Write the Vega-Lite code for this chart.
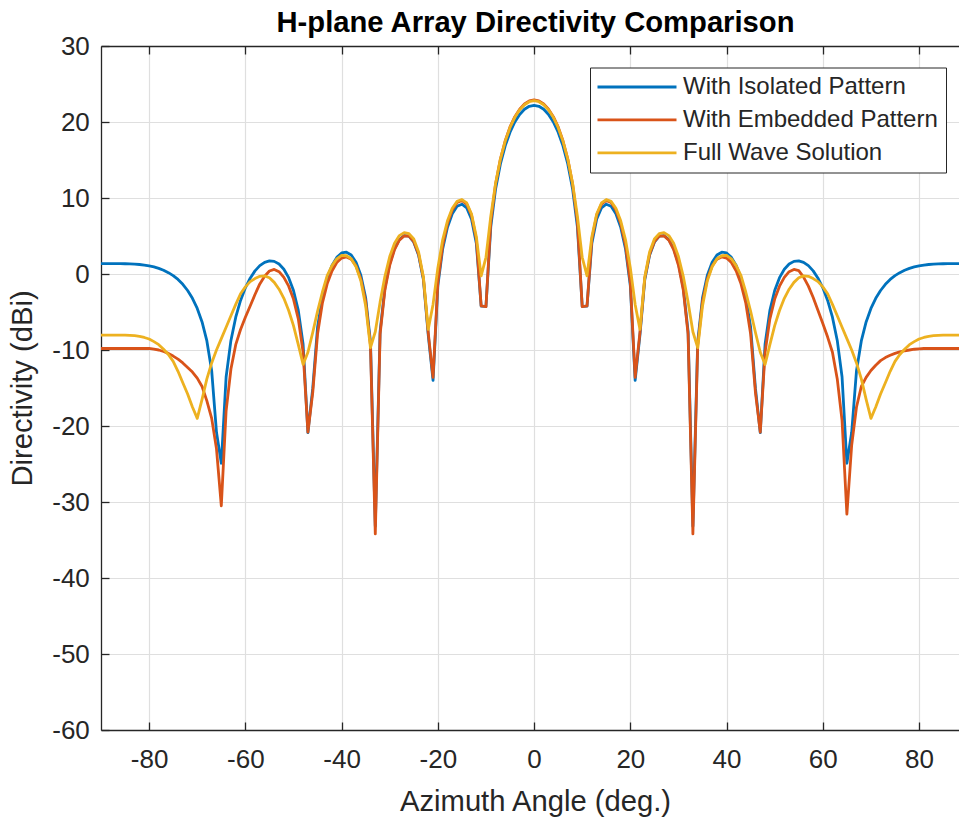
{
  "$schema": "https://vega.github.io/schema/vega-lite/v6.json",
  "width": 858,
  "height": 684,
  "autosize": {"type": "none"},
  "padding": {"left": 101, "top": 46, "right": 0, "bottom": 87},
  "background": "white",
  "config": {
    "font": "Liberation Sans",
    "view": {"stroke": null}
  },
  "datasets": {
    "pts": [
{"angle":-90,"dir":1.37,"series":"With Isolated Pattern"},{"angle":-89,"dir":1.37,"series":"With Isolated Pattern"},{"angle":-88,"dir":1.37,"series":"With Isolated Pattern"},{"angle":-87,"dir":1.37,"series":"With Isolated Pattern"},{"angle":-86,"dir":1.36,"series":"With Isolated Pattern"},{"angle":-85,"dir":1.35,"series":"With Isolated Pattern"},{"angle":-84,"dir":1.33,"series":"With Isolated Pattern"},{"angle":-83,"dir":1.3,"series":"With Isolated Pattern"},{"angle":-82,"dir":1.25,"series":"With Isolated Pattern"},{"angle":-81,"dir":1.18,"series":"With Isolated Pattern"},{"angle":-80,"dir":1.07,"series":"With Isolated Pattern"},{"angle":-79,"dir":0.93,"series":"With Isolated Pattern"},{"angle":-78,"dir":0.74,"series":"With Isolated Pattern"},{"angle":-77,"dir":0.5,"series":"With Isolated Pattern"},{"angle":-76,"dir":0.18,"series":"With Isolated Pattern"},{"angle":-75,"dir":-0.22,"series":"With Isolated Pattern"},{"angle":-74,"dir":-0.72,"series":"With Isolated Pattern"},{"angle":-73,"dir":-1.36,"series":"With Isolated Pattern"},{"angle":-72,"dir":-2.17,"series":"With Isolated Pattern"},{"angle":-71,"dir":-3.2,"series":"With Isolated Pattern"},{"angle":-70,"dir":-4.53,"series":"With Isolated Pattern"},{"angle":-69,"dir":-6.31,"series":"With Isolated Pattern"},{"angle":-68,"dir":-8.81,"series":"With Isolated Pattern"},{"angle":-67,"dir":-12.72,"series":"With Isolated Pattern"},{"angle":-66,"dir":-20.83,"series":"With Isolated Pattern"},{"angle":-65,"dir":-24.9,"series":"With Isolated Pattern"},{"angle":-64,"dir":-13.56,"series":"With Isolated Pattern"},{"angle":-63,"dir":-8.74,"series":"With Isolated Pattern"},{"angle":-62,"dir":-5.68,"series":"With Isolated Pattern"},{"angle":-61,"dir":-3.48,"series":"With Isolated Pattern"},{"angle":-60,"dir":-1.82,"series":"With Isolated Pattern"},{"angle":-59,"dir":-0.55,"series":"With Isolated Pattern"},{"angle":-58,"dir":0.41,"series":"With Isolated Pattern"},{"angle":-57,"dir":1.1,"series":"With Isolated Pattern"},{"angle":-56,"dir":1.54,"series":"With Isolated Pattern"},{"angle":-55,"dir":1.73,"series":"With Isolated Pattern"},{"angle":-54,"dir":1.66,"series":"With Isolated Pattern"},{"angle":-53,"dir":1.31,"series":"With Isolated Pattern"},{"angle":-52,"dir":0.62,"series":"With Isolated Pattern"},{"angle":-51,"dir":-0.48,"series":"With Isolated Pattern"},{"angle":-50,"dir":-2.17,"series":"With Isolated Pattern"},{"angle":-49,"dir":-4.78,"series":"With Isolated Pattern"},{"angle":-48,"dir":-9.25,"series":"With Isolated Pattern"},{"angle":-47,"dir":-20.87,"series":"With Isolated Pattern"},{"angle":-46,"dir":-15.05,"series":"With Isolated Pattern"},{"angle":-45,"dir":-7.01,"series":"With Isolated Pattern"},{"angle":-44,"dir":-3.03,"series":"With Isolated Pattern"},{"angle":-43,"dir":-0.53,"series":"With Isolated Pattern"},{"angle":-42,"dir":1.13,"series":"With Isolated Pattern"},{"angle":-41,"dir":2.19,"series":"With Isolated Pattern"},{"angle":-40,"dir":2.77,"series":"With Isolated Pattern"},{"angle":-39,"dir":2.87,"series":"With Isolated Pattern"},{"angle":-38,"dir":2.5,"series":"With Isolated Pattern"},{"angle":-37,"dir":1.55,"series":"With Isolated Pattern"},{"angle":-36,"dir":-0.17,"series":"With Isolated Pattern"},{"angle":-35,"dir":-3.13,"series":"With Isolated Pattern"},{"angle":-34,"dir":-8.93,"series":"With Isolated Pattern"},{"angle":-33,"dir":-33.2,"series":"With Isolated Pattern"},{"angle":-32,"dir":-7.54,"series":"With Isolated Pattern"},{"angle":-31,"dir":-1.81,"series":"With Isolated Pattern"},{"angle":-30,"dir":1.37,"series":"With Isolated Pattern"},{"angle":-29,"dir":3.35,"series":"With Isolated Pattern"},{"angle":-28,"dir":4.53,"series":"With Isolated Pattern"},{"angle":-27,"dir":5.06,"series":"With Isolated Pattern"},{"angle":-26,"dir":4.97,"series":"With Isolated Pattern"},{"angle":-25,"dir":4.19,"series":"With Isolated Pattern"},{"angle":-24,"dir":2.48,"series":"With Isolated Pattern"},{"angle":-23,"dir":-0.75,"series":"With Isolated Pattern"},{"angle":-22,"dir":-8.01,"series":"With Isolated Pattern"},{"angle":-21,"dir":-14.0,"series":"With Isolated Pattern"},{"angle":-20,"dir":-1.57,"series":"With Isolated Pattern"},{"angle":-19,"dir":3.31,"series":"With Isolated Pattern"},{"angle":-18,"dir":6.16,"series":"With Isolated Pattern"},{"angle":-17,"dir":7.93,"series":"With Isolated Pattern"},{"angle":-16,"dir":8.91,"series":"With Isolated Pattern"},{"angle":-15,"dir":9.18,"series":"With Isolated Pattern"},{"angle":-14,"dir":8.69,"series":"With Isolated Pattern"},{"angle":-13,"dir":7.22,"series":"With Isolated Pattern"},{"angle":-12,"dir":4.03,"series":"With Isolated Pattern"},{"angle":-11,"dir":-4.24,"series":"With Isolated Pattern"},{"angle":-10,"dir":-4.27,"series":"With Isolated Pattern"},{"angle":-9,"dir":6.21,"series":"With Isolated Pattern"},{"angle":-8,"dir":11.2,"series":"With Isolated Pattern"},{"angle":-7,"dir":14.48,"series":"With Isolated Pattern"},{"angle":-6,"dir":16.86,"series":"With Isolated Pattern"},{"angle":-5,"dir":18.65,"series":"With Isolated Pattern"},{"angle":-4,"dir":20.0,"series":"With Isolated Pattern"},{"angle":-3,"dir":20.99,"series":"With Isolated Pattern"},{"angle":-2,"dir":21.67,"series":"With Isolated Pattern"},{"angle":-1,"dir":22.07,"series":"With Isolated Pattern"},
{"angle":0,"dir":22.2,"series":"With Isolated Pattern"},{"angle":1,"dir":22.07,"series":"With Isolated Pattern"},{"angle":2,"dir":21.67,"series":"With Isolated Pattern"},{"angle":3,"dir":20.99,"series":"With Isolated Pattern"},{"angle":4,"dir":20.0,"series":"With Isolated Pattern"},{"angle":5,"dir":18.65,"series":"With Isolated Pattern"},{"angle":6,"dir":16.86,"series":"With Isolated Pattern"},{"angle":7,"dir":14.48,"series":"With Isolated Pattern"},{"angle":8,"dir":11.2,"series":"With Isolated Pattern"},{"angle":9,"dir":6.21,"series":"With Isolated Pattern"},{"angle":10,"dir":-4.27,"series":"With Isolated Pattern"},{"angle":11,"dir":-4.24,"series":"With Isolated Pattern"},{"angle":12,"dir":4.03,"series":"With Isolated Pattern"},{"angle":13,"dir":7.22,"series":"With Isolated Pattern"},{"angle":14,"dir":8.69,"series":"With Isolated Pattern"},{"angle":15,"dir":9.18,"series":"With Isolated Pattern"},{"angle":16,"dir":8.91,"series":"With Isolated Pattern"},{"angle":17,"dir":7.93,"series":"With Isolated Pattern"},{"angle":18,"dir":6.16,"series":"With Isolated Pattern"},{"angle":19,"dir":3.31,"series":"With Isolated Pattern"},{"angle":20,"dir":-1.57,"series":"With Isolated Pattern"},{"angle":21,"dir":-14.0,"series":"With Isolated Pattern"},{"angle":22,"dir":-8.01,"series":"With Isolated Pattern"},{"angle":23,"dir":-0.75,"series":"With Isolated Pattern"},{"angle":24,"dir":2.48,"series":"With Isolated Pattern"},{"angle":25,"dir":4.19,"series":"With Isolated Pattern"},{"angle":26,"dir":4.97,"series":"With Isolated Pattern"},{"angle":27,"dir":5.06,"series":"With Isolated Pattern"},{"angle":28,"dir":4.53,"series":"With Isolated Pattern"},{"angle":29,"dir":3.35,"series":"With Isolated Pattern"},{"angle":30,"dir":1.37,"series":"With Isolated Pattern"},{"angle":31,"dir":-1.81,"series":"With Isolated Pattern"},{"angle":32,"dir":-7.54,"series":"With Isolated Pattern"},{"angle":33,"dir":-33.2,"series":"With Isolated Pattern"},{"angle":34,"dir":-8.93,"series":"With Isolated Pattern"},{"angle":35,"dir":-3.13,"series":"With Isolated Pattern"},{"angle":36,"dir":-0.17,"series":"With Isolated Pattern"},{"angle":37,"dir":1.55,"series":"With Isolated Pattern"},{"angle":38,"dir":2.5,"series":"With Isolated Pattern"},{"angle":39,"dir":2.87,"series":"With Isolated Pattern"},{"angle":40,"dir":2.77,"series":"With Isolated Pattern"},{"angle":41,"dir":2.19,"series":"With Isolated Pattern"},{"angle":42,"dir":1.13,"series":"With Isolated Pattern"},{"angle":43,"dir":-0.53,"series":"With Isolated Pattern"},{"angle":44,"dir":-3.03,"series":"With Isolated Pattern"},{"angle":45,"dir":-7.01,"series":"With Isolated Pattern"},{"angle":46,"dir":-15.05,"series":"With Isolated Pattern"},{"angle":47,"dir":-20.87,"series":"With Isolated Pattern"},{"angle":48,"dir":-9.25,"series":"With Isolated Pattern"},{"angle":49,"dir":-4.78,"series":"With Isolated Pattern"},{"angle":50,"dir":-2.17,"series":"With Isolated Pattern"},{"angle":51,"dir":-0.48,"series":"With Isolated Pattern"},{"angle":52,"dir":0.62,"series":"With Isolated Pattern"},{"angle":53,"dir":1.31,"series":"With Isolated Pattern"},{"angle":54,"dir":1.66,"series":"With Isolated Pattern"},{"angle":55,"dir":1.73,"series":"With Isolated Pattern"},{"angle":56,"dir":1.54,"series":"With Isolated Pattern"},{"angle":57,"dir":1.1,"series":"With Isolated Pattern"},{"angle":58,"dir":0.41,"series":"With Isolated Pattern"},{"angle":59,"dir":-0.55,"series":"With Isolated Pattern"},{"angle":60,"dir":-1.82,"series":"With Isolated Pattern"},{"angle":61,"dir":-3.48,"series":"With Isolated Pattern"},{"angle":62,"dir":-5.68,"series":"With Isolated Pattern"},{"angle":63,"dir":-8.74,"series":"With Isolated Pattern"},{"angle":64,"dir":-13.56,"series":"With Isolated Pattern"},{"angle":65,"dir":-24.9,"series":"With Isolated Pattern"},{"angle":66,"dir":-20.83,"series":"With Isolated Pattern"},{"angle":67,"dir":-12.72,"series":"With Isolated Pattern"},{"angle":68,"dir":-8.81,"series":"With Isolated Pattern"},{"angle":69,"dir":-6.31,"series":"With Isolated Pattern"},{"angle":70,"dir":-4.53,"series":"With Isolated Pattern"},{"angle":71,"dir":-3.2,"series":"With Isolated Pattern"},{"angle":72,"dir":-2.17,"series":"With Isolated Pattern"},{"angle":73,"dir":-1.36,"series":"With Isolated Pattern"},{"angle":74,"dir":-0.72,"series":"With Isolated Pattern"},{"angle":75,"dir":-0.22,"series":"With Isolated Pattern"},{"angle":76,"dir":0.18,"series":"With Isolated Pattern"},{"angle":77,"dir":0.5,"series":"With Isolated Pattern"},{"angle":78,"dir":0.74,"series":"With Isolated Pattern"},{"angle":79,"dir":0.93,"series":"With Isolated Pattern"},{"angle":80,"dir":1.07,"series":"With Isolated Pattern"},{"angle":81,"dir":1.18,"series":"With Isolated Pattern"},{"angle":82,"dir":1.25,"series":"With Isolated Pattern"},{"angle":83,"dir":1.3,"series":"With Isolated Pattern"},{"angle":84,"dir":1.33,"series":"With Isolated Pattern"},{"angle":85,"dir":1.35,"series":"With Isolated Pattern"},{"angle":86,"dir":1.36,"series":"With Isolated Pattern"},{"angle":87,"dir":1.37,"series":"With Isolated Pattern"},{"angle":88,"dir":1.37,"series":"With Isolated Pattern"},{"angle":89,"dir":1.37,"series":"With Isolated Pattern"},{"angle":90,"dir":1.37,"series":"With Isolated Pattern"},
{"angle":-90,"dir":-9.8,"series":"With Embedded Pattern"},{"angle":-89,"dir":-9.8,"series":"With Embedded Pattern"},{"angle":-88,"dir":-9.8,"series":"With Embedded Pattern"},{"angle":-87,"dir":-9.8,"series":"With Embedded Pattern"},{"angle":-86,"dir":-9.8,"series":"With Embedded Pattern"},{"angle":-85,"dir":-9.8,"series":"With Embedded Pattern"},{"angle":-84,"dir":-9.8,"series":"With Embedded Pattern"},{"angle":-83,"dir":-9.8,"series":"With Embedded Pattern"},{"angle":-82,"dir":-9.8,"series":"With Embedded Pattern"},{"angle":-81,"dir":-9.8,"series":"With Embedded Pattern"},{"angle":-80,"dir":-9.8,"series":"With Embedded Pattern"},{"angle":-79,"dir":-9.9,"series":"With Embedded Pattern"},{"angle":-78,"dir":-10.0,"series":"With Embedded Pattern"},{"angle":-77,"dir":-10.2,"series":"With Embedded Pattern"},{"angle":-76,"dir":-10.45,"series":"With Embedded Pattern"},{"angle":-75,"dir":-10.8,"series":"With Embedded Pattern"},{"angle":-74,"dir":-11.2,"series":"With Embedded Pattern"},{"angle":-73,"dir":-11.7,"series":"With Embedded Pattern"},{"angle":-72,"dir":-12.3,"series":"With Embedded Pattern"},{"angle":-71,"dir":-12.9,"series":"With Embedded Pattern"},{"angle":-70,"dir":-13.7,"series":"With Embedded Pattern"},{"angle":-69,"dir":-14.8,"series":"With Embedded Pattern"},{"angle":-68,"dir":-16.7,"series":"With Embedded Pattern"},{"angle":-67,"dir":-19.0,"series":"With Embedded Pattern"},{"angle":-66,"dir":-23.0,"series":"With Embedded Pattern"},{"angle":-65,"dir":-30.5,"series":"With Embedded Pattern"},{"angle":-64,"dir":-18.0,"series":"With Embedded Pattern"},{"angle":-63,"dir":-12.5,"series":"With Embedded Pattern"},{"angle":-62,"dir":-9.3,"series":"With Embedded Pattern"},{"angle":-61,"dir":-7.3,"series":"With Embedded Pattern"},{"angle":-60,"dir":-5.7,"series":"With Embedded Pattern"},{"angle":-59,"dir":-4.2,"series":"With Embedded Pattern"},{"angle":-58,"dir":-2.7,"series":"With Embedded Pattern"},{"angle":-57,"dir":-1.3,"series":"With Embedded Pattern"},{"angle":-56,"dir":-0.3,"series":"With Embedded Pattern"},{"angle":-55,"dir":0.4,"series":"With Embedded Pattern"},{"angle":-54,"dir":0.6,"series":"With Embedded Pattern"},{"angle":-53,"dir":0.3,"series":"With Embedded Pattern"},{"angle":-52,"dir":-0.45,"series":"With Embedded Pattern"},{"angle":-51,"dir":-1.6,"series":"With Embedded Pattern"},{"angle":-50,"dir":-3.3,"series":"With Embedded Pattern"},{"angle":-49,"dir":-5.9,"series":"With Embedded Pattern"},{"angle":-48,"dir":-10.3,"series":"With Embedded Pattern"},{"angle":-47,"dir":-20.8,"series":"With Embedded Pattern"},{"angle":-46,"dir":-15.6,"series":"With Embedded Pattern"},{"angle":-45,"dir":-7.9,"series":"With Embedded Pattern"},{"angle":-44,"dir":-3.85,"series":"With Embedded Pattern"},{"angle":-43,"dir":-1.3,"series":"With Embedded Pattern"},{"angle":-42,"dir":0.4,"series":"With Embedded Pattern"},{"angle":-41,"dir":1.5,"series":"With Embedded Pattern"},{"angle":-40,"dir":2.1,"series":"With Embedded Pattern"},{"angle":-39,"dir":2.25,"series":"With Embedded Pattern"},{"angle":-38,"dir":1.95,"series":"With Embedded Pattern"},{"angle":-37,"dir":1.05,"series":"With Embedded Pattern"},{"angle":-36,"dir":-0.65,"series":"With Embedded Pattern"},{"angle":-35,"dir":-3.6,"series":"With Embedded Pattern"},{"angle":-34,"dir":-9.4,"series":"With Embedded Pattern"},{"angle":-33,"dir":-34.2,"series":"With Embedded Pattern"},{"angle":-32,"dir":-7.9,"series":"With Embedded Pattern"},{"angle":-31,"dir":-2.1,"series":"With Embedded Pattern"},{"angle":-30,"dir":1.15,"series":"With Embedded Pattern"},{"angle":-29,"dir":3.2,"series":"With Embedded Pattern"},{"angle":-28,"dir":4.45,"series":"With Embedded Pattern"},{"angle":-27,"dir":5.02,"series":"With Embedded Pattern"},{"angle":-26,"dir":4.98,"series":"With Embedded Pattern"},{"angle":-25,"dir":4.25,"series":"With Embedded Pattern"},{"angle":-24,"dir":2.6,"series":"With Embedded Pattern"},{"angle":-23,"dir":-0.55,"series":"With Embedded Pattern"},{"angle":-22,"dir":-7.7,"series":"With Embedded Pattern"},{"angle":-21,"dir":-13.6,"series":"With Embedded Pattern"},{"angle":-20,"dir":-1.15,"series":"With Embedded Pattern"},{"angle":-19,"dir":3.77,"series":"With Embedded Pattern"},{"angle":-18,"dir":6.64,"series":"With Embedded Pattern"},{"angle":-17,"dir":8.42,"series":"With Embedded Pattern"},{"angle":-16,"dir":9.4,"series":"With Embedded Pattern"},{"angle":-15,"dir":9.68,"series":"With Embedded Pattern"},{"angle":-14,"dir":9.2,"series":"With Embedded Pattern"},{"angle":-13,"dir":7.74,"series":"With Embedded Pattern"},{"angle":-12,"dir":4.55,"series":"With Embedded Pattern"},{"angle":-11,"dir":-4.2,"series":"With Embedded Pattern"},{"angle":-10,"dir":-4.3,"series":"With Embedded Pattern"},{"angle":-9,"dir":6.85,"series":"With Embedded Pattern"},{"angle":-8,"dir":11.85,"series":"With Embedded Pattern"},{"angle":-7,"dir":15.13,"series":"With Embedded Pattern"},{"angle":-6,"dir":17.53,"series":"With Embedded Pattern"},{"angle":-5,"dir":19.35,"series":"With Embedded Pattern"},{"angle":-4,"dir":20.7,"series":"With Embedded Pattern"},{"angle":-3,"dir":21.69,"series":"With Embedded Pattern"},{"angle":-2,"dir":22.37,"series":"With Embedded Pattern"},{"angle":-1,"dir":22.77,"series":"With Embedded Pattern"},
{"angle":0,"dir":22.9,"series":"With Embedded Pattern"},{"angle":1,"dir":22.77,"series":"With Embedded Pattern"},{"angle":2,"dir":22.37,"series":"With Embedded Pattern"},{"angle":3,"dir":21.69,"series":"With Embedded Pattern"},{"angle":4,"dir":20.7,"series":"With Embedded Pattern"},{"angle":5,"dir":19.35,"series":"With Embedded Pattern"},{"angle":6,"dir":17.53,"series":"With Embedded Pattern"},{"angle":7,"dir":15.13,"series":"With Embedded Pattern"},{"angle":8,"dir":11.85,"series":"With Embedded Pattern"},{"angle":9,"dir":6.85,"series":"With Embedded Pattern"},{"angle":10,"dir":-4.3,"series":"With Embedded Pattern"},{"angle":11,"dir":-4.2,"series":"With Embedded Pattern"},{"angle":12,"dir":4.55,"series":"With Embedded Pattern"},{"angle":13,"dir":7.74,"series":"With Embedded Pattern"},{"angle":14,"dir":9.2,"series":"With Embedded Pattern"},{"angle":15,"dir":9.68,"series":"With Embedded Pattern"},{"angle":16,"dir":9.4,"series":"With Embedded Pattern"},{"angle":17,"dir":8.42,"series":"With Embedded Pattern"},{"angle":18,"dir":6.64,"series":"With Embedded Pattern"},{"angle":19,"dir":3.77,"series":"With Embedded Pattern"},{"angle":20,"dir":-1.15,"series":"With Embedded Pattern"},{"angle":21,"dir":-13.6,"series":"With Embedded Pattern"},{"angle":22,"dir":-7.7,"series":"With Embedded Pattern"},{"angle":23,"dir":-0.55,"series":"With Embedded Pattern"},{"angle":24,"dir":2.6,"series":"With Embedded Pattern"},{"angle":25,"dir":4.25,"series":"With Embedded Pattern"},{"angle":26,"dir":4.98,"series":"With Embedded Pattern"},{"angle":27,"dir":5.02,"series":"With Embedded Pattern"},{"angle":28,"dir":4.45,"series":"With Embedded Pattern"},{"angle":29,"dir":3.2,"series":"With Embedded Pattern"},{"angle":30,"dir":1.15,"series":"With Embedded Pattern"},{"angle":31,"dir":-2.1,"series":"With Embedded Pattern"},{"angle":32,"dir":-7.9,"series":"With Embedded Pattern"},{"angle":33,"dir":-34.2,"series":"With Embedded Pattern"},{"angle":34,"dir":-9.4,"series":"With Embedded Pattern"},{"angle":35,"dir":-3.6,"series":"With Embedded Pattern"},{"angle":36,"dir":-0.65,"series":"With Embedded Pattern"},{"angle":37,"dir":1.05,"series":"With Embedded Pattern"},{"angle":38,"dir":1.95,"series":"With Embedded Pattern"},{"angle":39,"dir":2.25,"series":"With Embedded Pattern"},{"angle":40,"dir":2.1,"series":"With Embedded Pattern"},{"angle":41,"dir":1.5,"series":"With Embedded Pattern"},{"angle":42,"dir":0.4,"series":"With Embedded Pattern"},{"angle":43,"dir":-1.3,"series":"With Embedded Pattern"},{"angle":44,"dir":-3.85,"series":"With Embedded Pattern"},{"angle":45,"dir":-7.9,"series":"With Embedded Pattern"},{"angle":46,"dir":-15.6,"series":"With Embedded Pattern"},{"angle":47,"dir":-20.8,"series":"With Embedded Pattern"},{"angle":48,"dir":-10.3,"series":"With Embedded Pattern"},{"angle":49,"dir":-5.9,"series":"With Embedded Pattern"},{"angle":50,"dir":-3.3,"series":"With Embedded Pattern"},{"angle":51,"dir":-1.6,"series":"With Embedded Pattern"},{"angle":52,"dir":-0.45,"series":"With Embedded Pattern"},{"angle":53,"dir":0.3,"series":"With Embedded Pattern"},{"angle":54,"dir":0.6,"series":"With Embedded Pattern"},{"angle":55,"dir":0.45,"series":"With Embedded Pattern"},{"angle":56,"dir":-0.4,"series":"With Embedded Pattern"},{"angle":57,"dir":-1.6,"series":"With Embedded Pattern"},{"angle":58,"dir":-3.1,"series":"With Embedded Pattern"},{"angle":59,"dir":-4.8,"series":"With Embedded Pattern"},{"angle":60,"dir":-6.5,"series":"With Embedded Pattern"},{"angle":61,"dir":-8.3,"series":"With Embedded Pattern"},{"angle":62,"dir":-10.3,"series":"With Embedded Pattern"},{"angle":63,"dir":-13.8,"series":"With Embedded Pattern"},{"angle":64,"dir":-19.3,"series":"With Embedded Pattern"},{"angle":65,"dir":-31.6,"series":"With Embedded Pattern"},{"angle":66,"dir":-22.5,"series":"With Embedded Pattern"},{"angle":67,"dir":-17.5,"series":"With Embedded Pattern"},{"angle":68,"dir":-14.8,"series":"With Embedded Pattern"},{"angle":69,"dir":-13.6,"series":"With Embedded Pattern"},{"angle":70,"dir":-12.7,"series":"With Embedded Pattern"},{"angle":71,"dir":-12.0,"series":"With Embedded Pattern"},{"angle":72,"dir":-11.4,"series":"With Embedded Pattern"},{"angle":73,"dir":-11.0,"series":"With Embedded Pattern"},{"angle":74,"dir":-10.7,"series":"With Embedded Pattern"},{"angle":75,"dir":-10.45,"series":"With Embedded Pattern"},{"angle":76,"dir":-10.25,"series":"With Embedded Pattern"},{"angle":77,"dir":-10.1,"series":"With Embedded Pattern"},{"angle":78,"dir":-10.0,"series":"With Embedded Pattern"},{"angle":79,"dir":-9.9,"series":"With Embedded Pattern"},{"angle":80,"dir":-9.85,"series":"With Embedded Pattern"},{"angle":81,"dir":-9.8,"series":"With Embedded Pattern"},{"angle":82,"dir":-9.8,"series":"With Embedded Pattern"},{"angle":83,"dir":-9.8,"series":"With Embedded Pattern"},{"angle":84,"dir":-9.8,"series":"With Embedded Pattern"},{"angle":85,"dir":-9.8,"series":"With Embedded Pattern"},{"angle":86,"dir":-9.8,"series":"With Embedded Pattern"},{"angle":87,"dir":-9.8,"series":"With Embedded Pattern"},{"angle":88,"dir":-9.8,"series":"With Embedded Pattern"},{"angle":89,"dir":-9.8,"series":"With Embedded Pattern"},{"angle":90,"dir":-9.8,"series":"With Embedded Pattern"},
{"angle":-90,"dir":-8.05,"series":"Full Wave Solution"},{"angle":-89,"dir":-8.05,"series":"Full Wave Solution"},{"angle":-88,"dir":-8.05,"series":"Full Wave Solution"},{"angle":-87,"dir":-8.05,"series":"Full Wave Solution"},{"angle":-86,"dir":-8.05,"series":"Full Wave Solution"},{"angle":-85,"dir":-8.05,"series":"Full Wave Solution"},{"angle":-84,"dir":-8.08,"series":"Full Wave Solution"},{"angle":-83,"dir":-8.12,"series":"Full Wave Solution"},{"angle":-82,"dir":-8.2,"series":"Full Wave Solution"},{"angle":-81,"dir":-8.35,"series":"Full Wave Solution"},{"angle":-80,"dir":-8.55,"series":"Full Wave Solution"},{"angle":-79,"dir":-8.9,"series":"Full Wave Solution"},{"angle":-78,"dir":-9.3,"series":"Full Wave Solution"},{"angle":-77,"dir":-9.9,"series":"Full Wave Solution"},{"angle":-76,"dir":-10.6,"series":"Full Wave Solution"},{"angle":-75,"dir":-11.5,"series":"Full Wave Solution"},{"angle":-74,"dir":-12.8,"series":"Full Wave Solution"},{"angle":-73,"dir":-14.3,"series":"Full Wave Solution"},{"angle":-72,"dir":-15.8,"series":"Full Wave Solution"},{"angle":-71,"dir":-17.5,"series":"Full Wave Solution"},{"angle":-70,"dir":-19.0,"series":"Full Wave Solution"},{"angle":-69,"dir":-16.5,"series":"Full Wave Solution"},{"angle":-68,"dir":-13.8,"series":"Full Wave Solution"},{"angle":-67,"dir":-11.7,"series":"Full Wave Solution"},{"angle":-66,"dir":-10.0,"series":"Full Wave Solution"},{"angle":-65,"dir":-8.5,"series":"Full Wave Solution"},{"angle":-64,"dir":-7.0,"series":"Full Wave Solution"},{"angle":-63,"dir":-5.5,"series":"Full Wave Solution"},{"angle":-62,"dir":-4.0,"series":"Full Wave Solution"},{"angle":-61,"dir":-2.6,"series":"Full Wave Solution"},{"angle":-60,"dir":-1.7,"series":"Full Wave Solution"},{"angle":-59,"dir":-1.0,"series":"Full Wave Solution"},{"angle":-58,"dir":-0.6,"series":"Full Wave Solution"},{"angle":-57,"dir":-0.3,"series":"Full Wave Solution"},{"angle":-56,"dir":-0.25,"series":"Full Wave Solution"},{"angle":-55,"dir":-0.5,"series":"Full Wave Solution"},{"angle":-54,"dir":-1.1,"series":"Full Wave Solution"},{"angle":-53,"dir":-2.0,"series":"Full Wave Solution"},{"angle":-52,"dir":-3.2,"series":"Full Wave Solution"},{"angle":-51,"dir":-4.8,"series":"Full Wave Solution"},{"angle":-50,"dir":-6.8,"series":"Full Wave Solution"},{"angle":-49,"dir":-9.3,"series":"Full Wave Solution"},{"angle":-48,"dir":-11.9,"series":"Full Wave Solution"},{"angle":-47,"dir":-10.3,"series":"Full Wave Solution"},{"angle":-46,"dir":-7.7,"series":"Full Wave Solution"},{"angle":-45,"dir":-4.9,"series":"Full Wave Solution"},{"angle":-44,"dir":-2.4,"series":"Full Wave Solution"},{"angle":-43,"dir":-0.2,"series":"Full Wave Solution"},{"angle":-42,"dir":1.1,"series":"Full Wave Solution"},{"angle":-41,"dir":2.0,"series":"Full Wave Solution"},{"angle":-40,"dir":2.45,"series":"Full Wave Solution"},{"angle":-39,"dir":2.4,"series":"Full Wave Solution"},{"angle":-38,"dir":2.0,"series":"Full Wave Solution"},{"angle":-37,"dir":0.95,"series":"Full Wave Solution"},{"angle":-36,"dir":-0.9,"series":"Full Wave Solution"},{"angle":-35,"dir":-4.2,"series":"Full Wave Solution"},{"angle":-34,"dir":-9.7,"series":"Full Wave Solution"},{"angle":-33,"dir":-7.6,"series":"Full Wave Solution"},{"angle":-32,"dir":-3.7,"series":"Full Wave Solution"},{"angle":-31,"dir":-0.3,"series":"Full Wave Solution"},{"angle":-30,"dir":2.3,"series":"Full Wave Solution"},{"angle":-29,"dir":4.05,"series":"Full Wave Solution"},{"angle":-28,"dir":5.05,"series":"Full Wave Solution"},{"angle":-27,"dir":5.45,"series":"Full Wave Solution"},{"angle":-26,"dir":5.3,"series":"Full Wave Solution"},{"angle":-25,"dir":4.6,"series":"Full Wave Solution"},{"angle":-24,"dir":2.9,"series":"Full Wave Solution"},{"angle":-23,"dir":-0.4,"series":"Full Wave Solution"},{"angle":-22,"dir":-7.3,"series":"Full Wave Solution"},{"angle":-21,"dir":-4.0,"series":"Full Wave Solution"},{"angle":-20,"dir":0.8,"series":"Full Wave Solution"},{"angle":-19,"dir":4.5,"series":"Full Wave Solution"},{"angle":-18,"dir":7.0,"series":"Full Wave Solution"},{"angle":-17,"dir":8.65,"series":"Full Wave Solution"},{"angle":-16,"dir":9.55,"series":"Full Wave Solution"},{"angle":-15,"dir":9.8,"series":"Full Wave Solution"},{"angle":-14,"dir":9.35,"series":"Full Wave Solution"},{"angle":-13,"dir":7.9,"series":"Full Wave Solution"},{"angle":-12,"dir":4.9,"series":"Full Wave Solution"},{"angle":-11,"dir":-0.25,"series":"Full Wave Solution"},{"angle":-10,"dir":2.2,"series":"Full Wave Solution"},{"angle":-9,"dir":7.6,"series":"Full Wave Solution"},{"angle":-8,"dir":11.95,"series":"Full Wave Solution"},{"angle":-7,"dir":15.12,"series":"Full Wave Solution"},{"angle":-6,"dir":17.48,"series":"Full Wave Solution"},{"angle":-5,"dir":19.28,"series":"Full Wave Solution"},{"angle":-4,"dir":20.62,"series":"Full Wave Solution"},{"angle":-3,"dir":21.6,"series":"Full Wave Solution"},{"angle":-2,"dir":22.27,"series":"Full Wave Solution"},{"angle":-1,"dir":22.67,"series":"Full Wave Solution"},
{"angle":0,"dir":22.8,"series":"Full Wave Solution"},{"angle":1,"dir":22.67,"series":"Full Wave Solution"},{"angle":2,"dir":22.27,"series":"Full Wave Solution"},{"angle":3,"dir":21.6,"series":"Full Wave Solution"},{"angle":4,"dir":20.62,"series":"Full Wave Solution"},{"angle":5,"dir":19.28,"series":"Full Wave Solution"},{"angle":6,"dir":17.48,"series":"Full Wave Solution"},{"angle":7,"dir":15.12,"series":"Full Wave Solution"},{"angle":8,"dir":11.95,"series":"Full Wave Solution"},{"angle":9,"dir":7.6,"series":"Full Wave Solution"},{"angle":10,"dir":2.2,"series":"Full Wave Solution"},{"angle":11,"dir":-0.25,"series":"Full Wave Solution"},{"angle":12,"dir":4.9,"series":"Full Wave Solution"},{"angle":13,"dir":7.9,"series":"Full Wave Solution"},{"angle":14,"dir":9.35,"series":"Full Wave Solution"},{"angle":15,"dir":9.8,"series":"Full Wave Solution"},{"angle":16,"dir":9.55,"series":"Full Wave Solution"},{"angle":17,"dir":8.65,"series":"Full Wave Solution"},{"angle":18,"dir":7.0,"series":"Full Wave Solution"},{"angle":19,"dir":4.5,"series":"Full Wave Solution"},{"angle":20,"dir":0.8,"series":"Full Wave Solution"},{"angle":21,"dir":-4.0,"series":"Full Wave Solution"},{"angle":22,"dir":-7.3,"series":"Full Wave Solution"},{"angle":23,"dir":-0.4,"series":"Full Wave Solution"},{"angle":24,"dir":2.9,"series":"Full Wave Solution"},{"angle":25,"dir":4.6,"series":"Full Wave Solution"},{"angle":26,"dir":5.3,"series":"Full Wave Solution"},{"angle":27,"dir":5.45,"series":"Full Wave Solution"},{"angle":28,"dir":5.05,"series":"Full Wave Solution"},{"angle":29,"dir":4.05,"series":"Full Wave Solution"},{"angle":30,"dir":2.3,"series":"Full Wave Solution"},{"angle":31,"dir":-0.3,"series":"Full Wave Solution"},{"angle":32,"dir":-3.7,"series":"Full Wave Solution"},{"angle":33,"dir":-7.6,"series":"Full Wave Solution"},{"angle":34,"dir":-9.7,"series":"Full Wave Solution"},{"angle":35,"dir":-4.2,"series":"Full Wave Solution"},{"angle":36,"dir":-0.9,"series":"Full Wave Solution"},{"angle":37,"dir":0.95,"series":"Full Wave Solution"},{"angle":38,"dir":2.0,"series":"Full Wave Solution"},{"angle":39,"dir":2.4,"series":"Full Wave Solution"},{"angle":40,"dir":2.45,"series":"Full Wave Solution"},{"angle":41,"dir":2.0,"series":"Full Wave Solution"},{"angle":42,"dir":1.1,"series":"Full Wave Solution"},{"angle":43,"dir":-0.2,"series":"Full Wave Solution"},{"angle":44,"dir":-2.4,"series":"Full Wave Solution"},{"angle":45,"dir":-4.9,"series":"Full Wave Solution"},{"angle":46,"dir":-7.7,"series":"Full Wave Solution"},{"angle":47,"dir":-10.3,"series":"Full Wave Solution"},{"angle":48,"dir":-11.9,"series":"Full Wave Solution"},{"angle":49,"dir":-9.3,"series":"Full Wave Solution"},{"angle":50,"dir":-6.8,"series":"Full Wave Solution"},{"angle":51,"dir":-4.8,"series":"Full Wave Solution"},{"angle":52,"dir":-3.2,"series":"Full Wave Solution"},{"angle":53,"dir":-2.0,"series":"Full Wave Solution"},{"angle":54,"dir":-1.1,"series":"Full Wave Solution"},{"angle":55,"dir":-0.5,"series":"Full Wave Solution"},{"angle":56,"dir":-0.25,"series":"Full Wave Solution"},{"angle":57,"dir":-0.3,"series":"Full Wave Solution"},{"angle":58,"dir":-0.6,"series":"Full Wave Solution"},{"angle":59,"dir":-1.0,"series":"Full Wave Solution"},{"angle":60,"dir":-1.7,"series":"Full Wave Solution"},{"angle":61,"dir":-2.6,"series":"Full Wave Solution"},{"angle":62,"dir":-4.0,"series":"Full Wave Solution"},{"angle":63,"dir":-5.5,"series":"Full Wave Solution"},{"angle":64,"dir":-7.0,"series":"Full Wave Solution"},{"angle":65,"dir":-8.5,"series":"Full Wave Solution"},{"angle":66,"dir":-10.0,"series":"Full Wave Solution"},{"angle":67,"dir":-11.7,"series":"Full Wave Solution"},{"angle":68,"dir":-13.8,"series":"Full Wave Solution"},{"angle":69,"dir":-16.5,"series":"Full Wave Solution"},{"angle":70,"dir":-19.0,"series":"Full Wave Solution"},{"angle":71,"dir":-17.5,"series":"Full Wave Solution"},{"angle":72,"dir":-15.8,"series":"Full Wave Solution"},{"angle":73,"dir":-14.3,"series":"Full Wave Solution"},{"angle":74,"dir":-12.8,"series":"Full Wave Solution"},{"angle":75,"dir":-11.5,"series":"Full Wave Solution"},{"angle":76,"dir":-10.6,"series":"Full Wave Solution"},{"angle":77,"dir":-9.9,"series":"Full Wave Solution"},{"angle":78,"dir":-9.3,"series":"Full Wave Solution"},{"angle":79,"dir":-8.9,"series":"Full Wave Solution"},{"angle":80,"dir":-8.55,"series":"Full Wave Solution"},{"angle":81,"dir":-8.35,"series":"Full Wave Solution"},{"angle":82,"dir":-8.2,"series":"Full Wave Solution"},{"angle":83,"dir":-8.12,"series":"Full Wave Solution"},{"angle":84,"dir":-8.08,"series":"Full Wave Solution"},{"angle":85,"dir":-8.05,"series":"Full Wave Solution"},{"angle":86,"dir":-8.05,"series":"Full Wave Solution"},{"angle":87,"dir":-8.05,"series":"Full Wave Solution"},{"angle":88,"dir":-8.05,"series":"Full Wave Solution"},{"angle":89,"dir":-8.05,"series":"Full Wave Solution"},{"angle":90,"dir":-8.05,"series":"Full Wave Solution"}
    ]
  },
  "data": {"name": "pts"},
  "layer": [
    {
      "mark": {"type": "line", "strokeWidth": 2.8, "strokeJoin": "round", "clip": true},
      "encoding": {
        "x": {
          "field": "angle",
          "type": "quantitative",
          "scale": {"domain": [-90, 88.3], "nice": false, "zero": false},
          "axis": {
            "orient": "bottom",
            "values": [-80, -60, -40, -20, 0, 20, 40, 60, 80],
            "labelExpr": "'' + datum.value",
            "grid": true,
            "gridColor": "#dfdfdf",
            "gridWidth": 1.2,
            "domainColor": "#262626",
            "domainWidth": 1.3,
            "tickColor": "#262626",
            "tickSize": -8,
            "tickWidth": 1.3,
            "labelFont": "Liberation Sans",
            "labelFontSize": 26,
            "labelColor": "#262626",
            "labelPadding": 24,
            "labelFlush": false,
            "title": "Azimuth Angle (deg.)",
            "titleFont": "Liberation Sans",
            "titleFontSize": 29.2,
            "titleFontWeight": "normal",
            "titleColor": "#262626",
            "titleBaseline": "alphabetic",
            "titleX": 434,
            "titleY": 80
          }
        },
        "y": {
          "field": "dir",
          "type": "quantitative",
          "scale": {"domain": [-60, 30], "nice": false, "zero": false},
          "axis": {
            "values": [-60, -50, -40, -30, -20, -10, 0, 10, 20, 30],
            "labelExpr": "'' + datum.value",
            "grid": true,
            "gridColor": "#dfdfdf",
            "gridWidth": 1.2,
            "domainColor": "#262626",
            "domainWidth": 1.3,
            "tickColor": "#262626",
            "tickSize": -8,
            "tickWidth": 1.3,
            "labelFont": "Liberation Sans",
            "labelFontSize": 26,
            "labelColor": "#262626",
            "labelPadding": 19.7,
            "labelFlush": false,
            "title": "Directivity (dBi)",
            "titleFont": "Liberation Sans",
            "titleFontSize": 29.2,
            "titleFontWeight": "normal",
            "titleColor": "#262626",
            "titleBaseline": "alphabetic",
            "titleX": -69.5
          }
        },
        "color": {
          "field": "series",
          "type": "nominal",
          "scale": {
            "domain": ["With Isolated Pattern", "With Embedded Pattern", "Full Wave Solution"],
            "range": ["#0072BD", "#D95319", "#EDB120"]
          },
          "legend": {
            "orient": "none",
            "legendX": 489,
            "legendY": 21.5,
            "title": null,
            "symbolType": "M-4,0H4",
            "symbolSize": 390,
            "symbolStrokeWidth": 2.8,
            "symbolOffset": 27.5,
            "labelOffset": 34,
            "labelFont": "Liberation Sans",
            "labelFontSize": 24,
            "labelColor": "#262626",
            "labelLimit": 500,
            "padding": 7.5,
            "rowPadding": 8.9,
            "strokeColor": "#262626",
            "fillColor": "white"
          }
        }
      }
    },
    {
      "mark": {"type": "rule", "opacity": 0},
      "encoding": {
        "x": {
          "field": "angle",
          "type": "quantitative",
          "scale": {"domain": [-90, 88.3], "nice": false, "zero": false},
          "axis": {
            "orient": "top",
            "values": [-80, -60, -40, -20, 0, 20, 40, 60, 80],
            "grid": false,
            "labels": false,
            "domainColor": "#262626",
            "domainWidth": 1.3,
            "tickColor": "#262626",
            "tickSize": -8,
            "tickWidth": 1.3,
            "title": "H-plane Array Directivity Comparison",
            "titleFont": "Liberation Sans",
            "titleFontSize": 29.2,
            "titleFontWeight": "bold",
            "titleColor": "#000000",
            "titleBaseline": "alphabetic",
            "titleX": 434,
            "titleY": -14.5
          }
        }
      }
    }
  ],
  "resolve": {"axis": {"x": "independent"}}
}
